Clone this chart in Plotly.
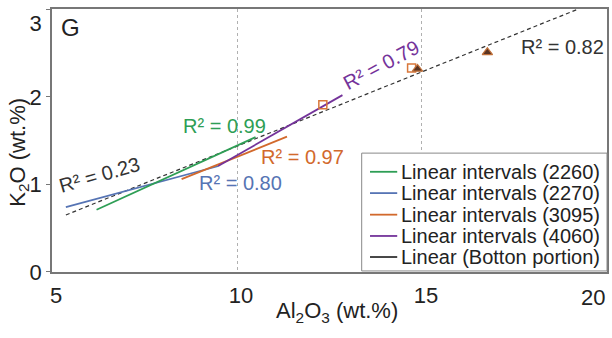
import plotly.graph_objects as go

# ---- data ----
green_x = [6.2, 10.5]
green_y = [0.71, 1.54]
blue_x = [5.37, 9.5]
blue_y = [0.74, 1.21]
orange_x = [8.5, 11.35]
orange_y = [1.06, 1.545]
purple_x = [9.49, 12.85]
purple_y = [1.21, 2.02]
bottom_x = [5.37, 19.2]
bottom_y = [0.65, 3.0]

square_x = [12.32, 14.72]
square_y = [1.91, 2.33]
tri_x = [14.88, 16.77]
tri_y = [2.32, 2.51]

x_ticks = [5, 10, 15, 20]
x_ticktext = ["5", "10", "15", ""]      # "20" is drawn right-aligned inside the frame below
x_last_label = "20"
y_ticks = [0, 1, 2, 3]
y_ticktext = ["0", "1", "2", "\u00a0<br>3"]   # top label kept inside the frame

legend_names = ["Linear intervals (2260)", "Linear intervals (2270)",
                "Linear intervals (3095)", "Linear intervals (4060)",
                "Linear (Botton portion)"]
GREEN, BLUE, ORANGE, PURPLE, DARK = "#2e9e55", "#5674b4", "#d2692c", "#74339a", "#333333"
legend_colors = [GREEN, BLUE, ORANGE, PURPLE, DARK]

r2_labels = ["R² = 0.99", "R² = 0.97", "R² = 0.80", "R² = 0.23", "R² = 0.79", "R² = 0.82"]
r2_x = [9.65, 11.78, 10.08, 6.27, 13.9, 18.8]
r2_y = [1.67, 1.31, 1.01, 1.11, 2.36, 2.57]
r2_colors = [GREEN, ORANGE, BLUE, DARK, PURPLE, DARK]
r2_angles = [0, 0, 0, -16, -28, 0]

FONT = "Arial, Liberation Sans, sans-serif"

fig = go.Figure()
fig.add_trace(go.Scatter(x=bottom_x, y=bottom_y, mode="lines",
                         line=dict(color=DARK, width=1.2, dash="4px,3px")))
fig.add_trace(go.Scatter(x=blue_x, y=blue_y, mode="lines", line=dict(color=BLUE, width=1.8)))
fig.add_trace(go.Scatter(x=green_x, y=green_y, mode="lines", line=dict(color=GREEN, width=1.8)))
fig.add_trace(go.Scatter(x=orange_x, y=orange_y, mode="lines", line=dict(color=ORANGE, width=1.8)))
fig.add_trace(go.Scatter(x=purple_x, y=purple_y, mode="lines", line=dict(color=PURPLE, width=1.8)))
fig.add_trace(go.Scatter(x=square_x, y=square_y, mode="markers",
                         marker=dict(symbol="square-open", size=8, color="#d9773a",
                                     line=dict(width=1.5, color="#d9773a"))))
fig.add_trace(go.Scatter(x=tri_x, y=tri_y, mode="markers",
                         marker=dict(symbol="triangle-up", size=9, color="#5a3422",
                                     line=dict(width=1.2, color="#c0703a"))))

annotations = []
for t, x, y, c, a in zip(r2_labels, r2_x, r2_y, r2_colors, r2_angles):
    annotations.append(dict(text=t, x=x, y=y, xref="x", yref="y", showarrow=False,
                            textangle=a, font=dict(family=FONT, size=20, color=c)))
annotations.append(dict(text="G", x=0.012, y=0.99, xref="paper", yref="paper", showarrow=False,
                        xanchor="left", yanchor="top", font=dict(family=FONT, size=24, color="#222")))
annotations.append(dict(text="Al<sub>2</sub>O<sub>3</sub> (wt.%)", x=12.7, y=-0.152, xref="x", yref="paper",
                        showarrow=False, yanchor="middle", font=dict(family=FONT, size=22, color="#222")))
annotations.append(dict(text="K<sub>2</sub>O (wt.%)", x=-0.06, y=1.37, xref="paper", yref="y",
                        showarrow=False, textangle=-90, xanchor="center",
                        font=dict(family=FONT, size=22, color="#222")))
annotations.append(dict(text=x_last_label, x=x_ticks[-1], y=-0.004, xref="x", yref="paper",
                        showarrow=False, xanchor="right", yanchor="top", xshift=-1, yshift=-11,
                        borderpad=0, font=dict(family=FONT, size=22, color="#222")))

# custom legend (paper coordinates)
shapes = [dict(type="rect", xref="paper", yref="paper", x0=0.558, x1=1.0, y0=0.004, y1=0.452,
               line=dict(color="#888", width=1), fillcolor="white", layer="above")]
row_y = [0.381, 0.300, 0.218, 0.137, 0.057]
for name, col, ry in zip(legend_names, legend_colors, row_y):
    shapes.append(dict(type="line", xref="paper", yref="paper", x0=0.573, x1=0.622, y0=ry, y1=ry,
                       line=dict(color=col, width=1.8), layer="above"))
    annotations.append(dict(text=name, x=0.626, y=ry, xref="paper", yref="paper", showarrow=False,
                            xanchor="left", yanchor="middle",
                            font=dict(family=FONT, size=20, color="#222")))

fig.update_layout(
    width=612, height=338,
    margin=dict(l=52, r=5, t=9, b=66, autoexpand=False),
    paper_bgcolor="white", plot_bgcolor="white",
    showlegend=False,
    annotations=annotations, shapes=shapes,
    xaxis=dict(range=[4.995, 20.005], tickmode="array", tickvals=x_ticks, ticktext=x_ticktext,
               showgrid=True, gridcolor="#b0b0b0", automargin=False,
               griddash="dot", gridwidth=1, zeroline=False, showline=True, linecolor="#777",
               linewidth=1.5, mirror=True, ticks="", ticklabeloverflow="allow",
               ticklabelshift=4, ticklabelstandoff=3,
               tickfont=dict(family=FONT, size=22, color="#222")),
    yaxis=dict(range=[-0.002, 3.005], tickmode="array", tickvals=y_ticks, ticktext=y_ticktext,
               showgrid=False, zeroline=False, ticklabeloverflow="allow", automargin=False,
               showline=True, linecolor="#777", linewidth=1.5, mirror=True, ticks="outside",
               ticklen=4, tickcolor="#777", tickfont=dict(family=FONT, size=22, color="#222")),
)

fig.write_html("out.html")
